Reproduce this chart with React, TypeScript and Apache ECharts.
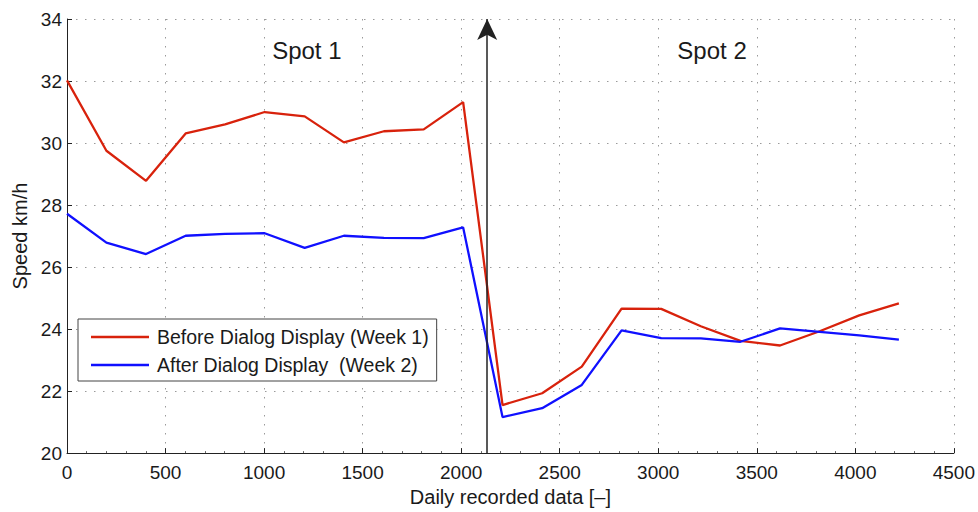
import React, { useEffect, useRef } from "react";
import * as echarts from "echarts";

// Daily recorded data index (x) for each sample
const spot1X = [0, 200, 401, 602, 802, 1003, 1206, 1405, 1608, 1810, 2010];
const spot2X = [2210, 2411, 2612, 2814, 3015, 3216, 3417, 3618, 3819, 4020, 4221];

// Mean speed (km/h), before the dialog display (week 1)
const beforeSpot1 = [32.02, 29.75, 28.78, 30.31, 30.6, 31.0, 30.86, 30.02, 30.38, 30.44, 31.32];
const beforeSpot2 = [21.55, 21.93, 22.79, 24.66, 24.65, 24.09, 23.62, 23.47, 23.93, 24.44, 24.83];

// Mean speed (km/h), after the dialog display (week 2)
const afterSpot1 = [27.72, 26.79, 26.42, 27.01, 27.07, 27.09, 26.62, 27.01, 26.94, 26.93, 27.28];
const afterSpot2 = [21.16, 21.45, 22.2, 23.96, 23.71, 23.7, 23.59, 24.02, 23.91, 23.8, 23.66];

// Boundary between the two spots and the region labels
const boundaryX = 2132;
const spotLabels = [
  { text: "Spot 1", x: 1217, y: 33.0 },
  { text: "Spot 2", x: 3273, y: 33.0 },
];

const seriesNames = ["Before Dialog Display (Week 1)", "After Dialog Display  (Week 2)"];

const FONT = "'Liberation Sans', Arial, Helvetica, sans-serif";
const INK = "#1a1a1a";

function pairs(xs: number[], ys: number[]) {
  return xs.map((x, i) => [x, ys[i]]);
}

export default function App() {
  const ref = useRef<HTMLDivElement>(null);

  useEffect(() => {
    if (!ref.current) return;
    const chart = echarts.init(ref.current, null, { renderer: "svg" });

    const xAll = spot1X.concat(spot2X);
    const before = pairs(xAll, beforeSpot1.concat(beforeSpot2));
    const after = pairs(xAll, afterSpot1.concat(afterSpot2));

    chart.setOption({
      animation: false,
      textStyle: { fontFamily: FONT },
      grid: { left: 67, right: 24, top: 19, bottom: 56, containLabel: false },
      legend: {
        orient: "vertical",
        left: 78,
        top: 319,
        backgroundColor: "#fff",
        borderColor: "#444",
        borderWidth: 1,
        padding: [7, 8, 5, 13],
        icon: "rect",
        itemWidth: 58,
        itemHeight: 2.4,
        itemGap: 6,
        data: seriesNames,
        textStyle: {
          fontFamily: FONT,
          fontSize: 19.5,
          color: INK,
          lineHeight: 22,
          padding: [0, 0, 0, 3],
        },
      },
      xAxis: {
        type: "value",
        min: 0,
        max: 4500,
        interval: 500,
        name: "Daily recorded data [\u2013]",
        nameLocation: "middle",
        nameGap: 28,
        nameTextStyle: { fontFamily: FONT, fontSize: 20, color: INK },
        axisLine: { show: true, onZero: false, lineStyle: { color: "#222", width: 1 } },
        axisTick: { show: true, inside: true, length: 5, lineStyle: { color: "#222" } },
        minorTick: { show: true, splitNumber: 5, length: 2, lineStyle: { color: "#666" } },
        axisLabel: {
          fontFamily: FONT,
          fontSize: 19,
          color: INK,
          margin: 10,
          formatter: (v: number) => String(v),
        },
        splitLine: { show: true, lineStyle: { color: "#9a9a9a", type: [1.5, 7.5], width: 1 } },
      },
      yAxis: {
        type: "value",
        min: 20,
        max: 34,
        interval: 2,
        name: "Speed km/h",
        nameLocation: "middle",
        nameGap: 36,
        nameTextStyle: { fontFamily: FONT, fontSize: 20, color: INK },
        axisLine: { show: true, onZero: false, lineStyle: { color: "#222", width: 1 } },
        axisTick: { show: true, inside: true, length: 5, lineStyle: { color: "#222" } },
        axisLabel: { fontFamily: FONT, fontSize: 19, color: INK, margin: 5 },
        splitLine: { show: true, lineStyle: { color: "#9a9a9a", type: [1.5, 7.5], width: 1 } },
      },
      series: [
        {
          name: seriesNames[0],
          type: "line",
          data: before,
          symbol: "none",
          lineStyle: { color: "#d8220c", width: 2.3 },
          itemStyle: { color: "#d8220c" },
          z: 3,
          markLine: {
            silent: true,
            symbol: ["none", "arrow"],
            symbolSize: [15, 21],
            label: { show: false },
            lineStyle: { color: "#222", width: 1.5, type: "solid" },
            data: [[{ coord: [boundaryX, 20] }, { coord: [boundaryX, 34] }]],
          },
        },
        {
          name: seriesNames[1],
          type: "line",
          data: after,
          symbol: "none",
          lineStyle: { color: "#1010ff", width: 2.3 },
          itemStyle: { color: "#1010ff" },
          z: 3,
        },
      ],
    });

    // Region labels positioned in data coordinates
    const texts = spotLabels.map((s) => {
      const [px, py] = chart.convertToPixel({ gridIndex: 0 }, [s.x, s.y]);
      return {
        type: "text",
        x: px,
        y: py,
        style: {
          text: s.text,
          fontFamily: FONT,
          fontSize: 24,
          fill: INK,
          align: "center",
          verticalAlign: "middle",
        },
        z: 10,
      };
    });
    chart.setOption({ graphic: texts });

    return () => chart.dispose();
  }, []);

  return (
    <div
      ref={ref}
      style={{ position: "absolute", left: 0, top: 0, width: 978, height: 512 }}
    />
  );
}
